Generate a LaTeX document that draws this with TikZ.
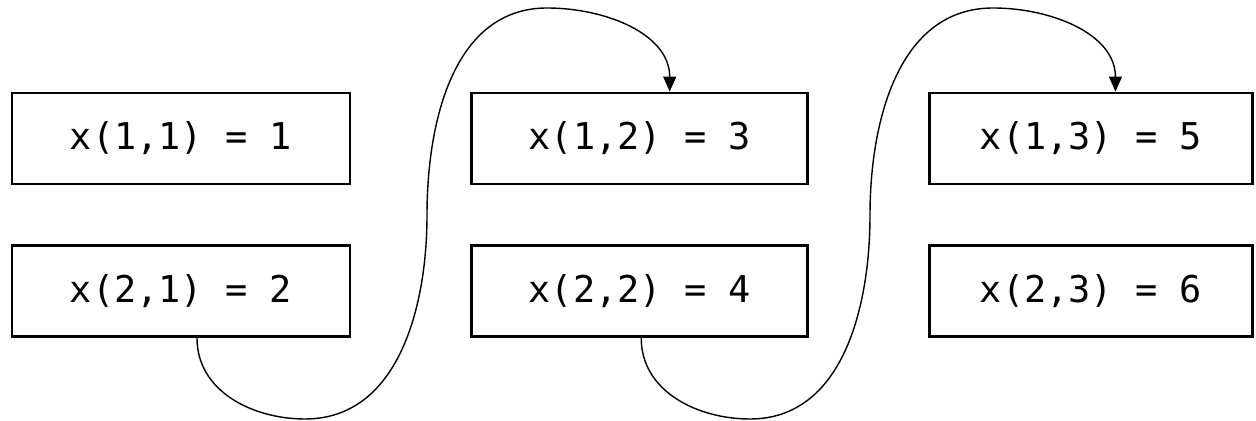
\documentclass[tikz,border=0pt]{standalone}
\usepackage{fontspec}
\usepackage{tikz}
\usetikzlibrary{arrows.meta,positioning}
\newfontfamily\cellfont{DejaVu Sans Mono}

\begin{document}
\begin{tikzpicture}[
    x=0.02cm, y=0.02cm,
    >={Triangle[length=0.3cm,width=0.26cm]},
    cell/.style={
        rectangle, draw, line width=1.6pt,
        minimum height=1.82cm, inner sep=0pt,
        text centered, font=\cellfont\fontsize{21pt}{25pt}\selectfont
    },
    colA/.style={cell, minimum width=6.76cm},
    colB/.style={cell, minimum width=6.72cm},
    colC/.style={cell, minimum width=6.46cm},
    link/.style={->, line width=0.8pt}
]
    \useasboundingbox (0,0) rectangle (1256,421);

    % Cells, column by column
    \node[colA] (x11) at (181,282.5) {x(1,1) = 1};
    \node[colA, below=1.18cm of x11] (x21) {x(2,1) = 2};
    \node[colB, right=2.38cm of x11] (x12) {x(1,2) = 3};
    \node[colB, below=1.18cm of x12] (x22) {x(2,2) = 4};
    \node[colC, right=2.38cm of x12] (x13) {x(1,3) = 5};
    \node[colC, below=1.18cm of x13] (x23) {x(2,3) = 6};

    % Order of storage
    \draw[link] ([xshift=0.32cm]x21.south) to[out=-90,in=180] (305,2)
        to[out=0,in=-90] (427,206) to[out=90,in=180] (547,413)
        to[out=0,in=90] ([xshift=0.6cm]x12.north);
    \draw[link] ([xshift=0.03cm]x22.south) to[out=-90,in=180] (750,2)
        to[out=0,in=-90] (870,206) to[out=90,in=180] (993,413)
        to[out=0,in=90] ([xshift=0.49cm]x13.north);

\end{tikzpicture}
\end{document}
